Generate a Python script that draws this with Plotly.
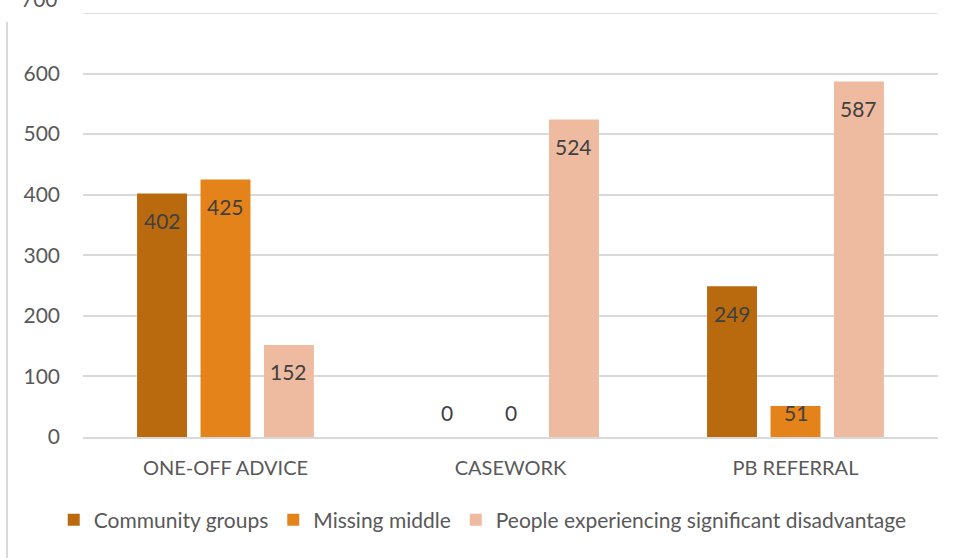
import plotly.graph_objects as go

categories = ["ONE-OFF ADVICE", "CASEWORK", "PB REFERRAL"]
series_names = ["Community groups", "Missing middle", "People experiencing significant disadvantage"]
community = [402, 0, 249]
missing = [425, 0, 51]
people = [152, 524, 587]
y_ticks = [0, 100, 200, 300, 400, 500, 600]
top_label = "700"

colors = ["#BA6A0E", "#E4831A", "#EEBBA0"]
FONT = "Lato"
BARGAP = 0.332
GROUPGAP = 0.213
W, H = 954, 558
M = dict(l=83, r=16, t=13, b=121)
YMAX = 700
plot_h = H - M["t"] - M["b"]

fig = go.Figure()
xs = list(range(len(categories)))
all_series = [community, missing, people]
for name, vals, col in zip(series_names, all_series, colors):
    fig.add_trace(go.Bar(
        x=xs, y=vals, name=name,
        marker=dict(color=col, line=dict(width=0)),
        hoverinfo="y",
    ))

# data labels (inside end, Excel-like) through data coordinates
slot = (1 - BARGAP) / len(all_series)
for i, vals in enumerate(all_series):
    for xi, v in zip(xs, vals):
        if v > 0:
            bar_px = v * plot_h / YMAX
            shift = -min(27, bar_px - 25)
        else:
            shift = 25
        fig.add_annotation(
            x=xi + (i - (len(all_series) - 1) / 2) * slot, y=v,
            xref="x", yref="y", text=str(v), showarrow=False,
            yshift=shift, yanchor="middle",
            font=dict(family=FONT, size=21, color="#404040"),
        )

fig.add_annotation(
    x=0, xref="paper", xanchor="right", xshift=-23,
    y=YMAX, yref="y", yshift=15, yanchor="middle",
    text=top_label, showarrow=False,
    font=dict(family=FONT, size=21, color="#595959"),
)

fig.update_layout(
    width=W, height=H,
    margin=M,
    paper_bgcolor="white", plot_bgcolor="white",
    barmode="group", bargap=BARGAP, bargroupgap=GROUPGAP,
    font=dict(family=FONT, size=21, color="#595959"),
    showlegend=True,
    legend=dict(
        orientation="h", xref="container", x=0.506, xanchor="center",
        yref="container", y=0.068, yanchor="middle",
        font=dict(family=FONT, size=21, color="#595959"),
        itemclick=False, itemdoubleclick=False, traceorder="normal",
    ),
    shapes=[dict(type="line", xref="paper", yref="paper",
                 x0=-0.0889, x1=-0.0889, y0=-0.3, y1=0.979,
                 line=dict(color="#d9d9d9", width=2))],
)
fig.update_xaxes(
    range=[-0.5, 2.5], tickvals=xs, ticktext=categories,
    showgrid=False, showline=True, linecolor="#d9d9d9", linewidth=1.5,
    ticks="", ticklabelstandoff=12,
    tickfont=dict(family=FONT, size=20, color="#595959"),
    zeroline=False, fixedrange=True,
)
fig.update_yaxes(
    range=[0, YMAX], tickvals=y_ticks, showgrid=True, gridcolor="#d9d9d9",
    gridwidth=1.5, zeroline=False, showline=False, ticks="",
    ticklabelstandoff=22,
    tickfont=dict(family=FONT, size=21, color="#595959"), fixedrange=True,
)
# gridline at the top value
fig.add_hline(y=YMAX, line=dict(color="#d9d9d9", width=1.5))

fig.write_html("out.html", config={"displayModeBar": False})
